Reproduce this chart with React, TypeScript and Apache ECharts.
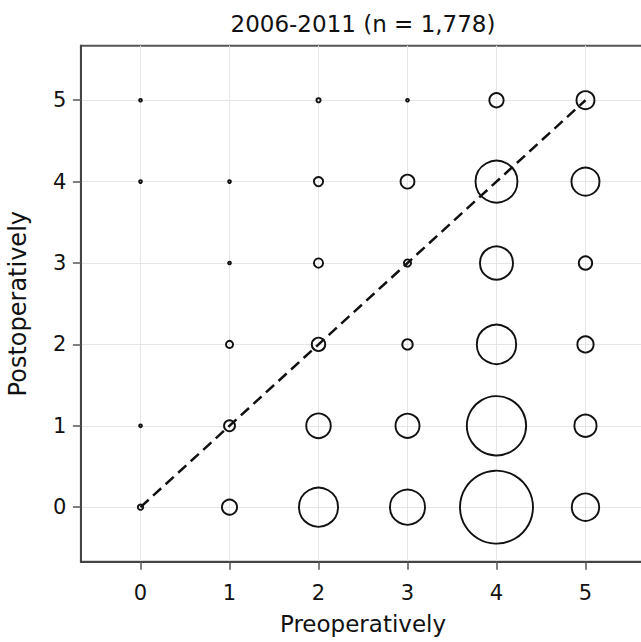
import React, { useEffect, useRef } from "react";
import * as echarts from "echarts";

// Levels on both axes
const preLevels = [0, 1, 2, 3, 4, 5];
const postLevels = [0, 1, 2, 3, 4, 5];
const tickValues = [0, 1, 2, 3, 4, 5];

// Counts per postoperative level (rows), columns = preoperative level 0..5
const countsPost0 = [3, 20, 126, 102, 432, 63];
const countsPost1 = [1, 11, 51, 49, 287, 42];
const countsPost2 = [0, 5, 16, 10, 128, 23];
const countsPost3 = [0, 1, 8, 5, 91, 16];
const countsPost4 = [1, 1, 8, 17, 145, 66];
const countsPost5 = [1, 0, 2, 1, 18, 28];
const countRows = [countsPost0, countsPost1, countsPost2, countsPost3, countsPost4, countsPost5];

const refLine = [
  [0, 0],
  [5, 5],
];

const titleText = "2006-2011 (n = 1,778)";
const xName = "Preoperatively";
const yName = "Postoperatively";

const FONT = "DejaVu Sans";

export default function App() {
  const ref = useRef<HTMLDivElement>(null);
  useEffect(() => {
    if (!ref.current) return;
    const chart = echarts.init(ref.current, undefined, { renderer: "svg" });
    const data: number[][] = [];
    postLevels.forEach((post, i) => {
      preLevels.forEach((pre, j) => {
        const c = countRows[i][j];
        if (c > 0) data.push([pre, post, c]);
      });
    });
    const axisCommon = {
      type: "value" as const,
      min: -0.67,
      max: 5.67,
      axisLine: { show: true, onZero: false, lineStyle: { color: "#444", width: 2 } },
      axisTick: {
        show: true,
        length: 8,
        inside: false,
        customValues: tickValues,
        lineStyle: { color: "#555", width: 1.5 },
      },
      splitLine: { show: true, lineStyle: { color: "#e6e6e6", width: 1 } },
      nameLocation: "middle" as const,
      nameTextStyle: { fontFamily: FONT, fontSize: 23, color: "#111" },
    };
    chart.setOption({
      animation: false,
      backgroundColor: "#ffffff",
      textStyle: { fontFamily: FONT },
      grid: {
        left: 80.9,
        right: -4.1,
        top: 45.7,
        bottom: 80.3,
        show: true,
        borderColor: "#555",
        borderWidth: 2,
        backgroundColor: "transparent",
        containLabel: false,
        outerBoundsMode: "none",
      },
      graphic: [
        {
          type: "text",
          x: 363,
          y: 23.8,
          style: {
            text: titleText,
            align: "center",
            verticalAlign: "middle",
            font: `23px "${FONT}"`,
            fill: "#111",
          },
        },
      ],
      xAxis: {
        ...axisCommon,
        name: xName,
        nameGap: 50.5,
        axisLabel: {
          customValues: tickValues,
          margin: 20.5,
          fontFamily: FONT,
          fontSize: 21,
          color: "#111",
          formatter: (v: number) => String(Math.round(v)),
        },
      },
      yAxis: {
        ...axisCommon,
        name: yName,
        nameGap: 51.2,
        nameRotate: 90,
        nameTextStyle: { fontFamily: FONT, fontSize: 24, color: "#111" },
        axisLabel: {
          customValues: tickValues,
          margin: 14.5,
          fontFamily: FONT,
          fontSize: 21,
          color: "#111",
          formatter: (v: number) => String(Math.round(v)),
        },
      },
      series: [
        {
          type: "scatter",
          data,
          symbol: "circle",
          symbolSize: (v: number[]) => 3.55 * Math.sqrt(v[2]) - 0.8,
          itemStyle: { color: "transparent", borderColor: "#111", borderWidth: 1.9, opacity: 1 },
          emphasis: { disabled: true },
          z: 2,
        },
        {
          type: "line",
          data: refLine,
          symbol: "none",
          lineStyle: { color: "#111", width: 2.5, type: [11, 6] },
          emphasis: { disabled: true },
          z: 3,
        },
      ],
    });
    return () => chart.dispose();
  }, []);
  return (
    <div
      ref={ref}
      style={{ position: "fixed", left: 0, top: 0, width: 641, height: 642 }}
    />
  );
}
